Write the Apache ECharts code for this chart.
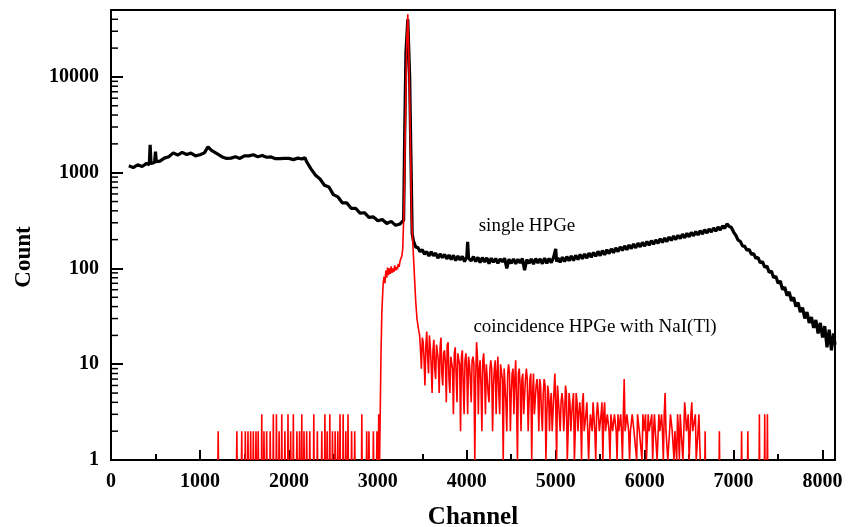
<!DOCTYPE html>
<html><head><meta charset="utf-8">
<script src="https://cdn.jsdelivr.net/npm/echarts@6/dist/echarts.min.js"></script>
<style>html,body{margin:0;padding:0;background:#fff}#c{width:848px;height:527px}</style>
</head><body><div id="c"></div>
<script>
// ---- tick labels ----
const xTickLabels = [0, 1000, 2000, 3000, 4000, 5000, 6000, 7000, 8000];
const yTickLabels = [1, 10, 100, 1000, 10000];
const yMinorTicks = [2,3,4,5,6,7,8,9,20,30,40,50,60,70,80,90,200,300,400,500,600,700,800,900,
  2000,3000,4000,5000,6000,7000,8000,9000,20000,30000,40000];

// ---- single HPGe spectrum [channel, count] ----
const singleLow = [
  [200,1180],[250,1130],[300,1210],[350,1160],[400,1250],[430,1210],[440,1960],[450,1250],
  [490,1280],[500,1660],[510,1300],[550,1320],[600,1420],[650,1470],[700,1610],[750,1530],
  [800,1630],[850,1550],[900,1600],[950,1500],[1000,1540],[1050,1610],[1090,1860],[1130,1710],
  [1150,1630],[1200,1560],[1250,1460],[1300,1410],[1350,1420],[1400,1470],[1450,1410],[1500,1500],
  [1550,1500],[1600,1540],[1650,1470],[1700,1510],[1750,1450],[1800,1460],[1850,1400],[1900,1400],
  [1950,1410],[2000,1410],[2050,1370],[2100,1420],[2150,1390],[2180,1440],[2200,1300],[2250,1090],
  [2300,940],[2350,860],[2400,740],[2450,710],[2500,590],[2550,560],[2600,485],[2650,485],
  [2700,425],[2750,425],[2800,378],[2850,382],[2900,342],[2950,346],[3000,315],[3050,325],
  [3100,295],[3150,310],[3200,282],[3250,292],[3290,320]
];
const singlePeak = [[3302,2500],[3316,18000],[3337,40000],[3358,10000],[3372,1500],[3386,230]];
const singleHigh = [
  [3400,195],[3425,168],[3450,165],[3475,150],[3500,157],[3525,141],[3550,150],[3575,135],
  [3600,149],[3625,136],[3650,145],[3675,128],[3700,142],[3725,130],[3750,140],[3775,126],
  [3800,138],[3825,124],[3850,137],[3875,121],[3900,135],[3925,123],[3950,134],[3975,118],
  [4000,132],[4010,190],[4020,128],[4050,120],[4075,133],[4100,118],[4125,131],[4150,115],
  [4175,130],[4200,117],[4225,129],[4250,112],[4275,128],[4300,116],[4325,127],[4350,113],
  [4375,126],[4400,117],[4425,128],[4450,100],[4475,125],[4500,113],[4525,126],[4550,112],
  [4575,125],[4600,114],[4625,127],[4650,96],[4675,124],[4700,113],[4725,126],[4750,111],
  [4775,127],[4800,114],[4825,126],[4850,112],[4875,128],[4900,113],[4925,127],[4950,115],
  [4975,130],[5000,160],[5010,118],[5025,129],[5050,116],[5075,131],[5100,118],[5125,133],
  [5150,120],[5175,135],[5200,121],[5225,137],[5250,124],[5275,140],[5300,126],[5325,142],
  [5350,128],[5375,145],[5400,131],[5425,147],[5450,134],[5475,151],[5500,136],[5525,154],
  [5550,139],[5575,157],[5600,143],[5625,160],[5650,146],[5675,164],[5700,150],[5725,168],
  [5750,154],[5775,172],[5800,157],[5825,176],[5850,161],[5875,180],[5900,164],[5925,184],
  [5950,168],[5975,187],[6000,171],[6025,191],[6050,175],[6075,195],[6100,179],[6125,199],
  [6150,183],[6175,204],[6200,187],[6225,208],[6250,191],[6275,213],[6300,196],[6325,218],
  [6350,200],[6375,222],[6400,205],[6425,228],[6450,209],[6475,233],[6500,214],[6525,238],
  [6550,219],[6575,243],[6600,224],[6625,248],[6650,229],[6675,254],[6700,234],[6725,259],
  [6750,240],[6775,265],[6800,245],[6825,271],[6850,252],[6875,278],[6900,262],[6925,292],
  [6950,275],[6975,268],[7000,240],[7025,222],[7050,198],[7075,192],[7100,172],[7125,170],
  [7150,155],[7175,158],[7200,140],[7225,143],[7250,128],[7275,130],[7300,114],[7325,118],
  [7350,103],[7375,106],[7400,91],[7425,94],[7450,80],[7475,83],[7500,70],[7525,74],
  [7550,60],[7575,64],[7600,52],[7625,57],[7650,46],[7675,50],[7700,40],[7725,44],
  [7750,35],[7775,39],[7800,30],[7825,35],[7850,27],[7875,31],[7900,24],[7925,29],
  [7950,21],[7975,27],[8000,19],[8025,25],[8050,15],[8075,23],[8100,14],[8125,21],[8140,16]
];

// ---- coincidence HPGe with NaI(Tl): main region [channel, count] ----
const coincMain = [
  [3020,1],[3035,12],[3045,35],[3055,55],[3060,70],[3070,82],[3080,70],[3090,95],[3100,80],
  [3110,102],[3120,85],[3130,100],[3140,88],[3150,105],[3160,90],[3170,100],[3180,92],[3190,108],
  [3200,95],[3210,104],[3220,98],[3230,112],[3240,104],[3250,120],[3260,118],[3270,135],[3280,160],
  [3295,450],[3310,3500],[3325,22000],[3337,45000],[3350,15000],[3365,2500],[3380,320],[3395,170],
  [3410,90],[3425,47],[3440,30],[3455,24],
  [3470,20],[3490,9],[3510,17],[3530,6],[3550,22],[3570,8],[3590,15],[3610,5],[3630,18],[3650,7],
  [3670,16],[3690,5],[3710,19],[3730,6],[3750,14],[3770,4],[3790,17],[3810,5],[3830,12],[3850,3],
  [3870,15],[3890,4],[3910,11],[3930,2],[3950,14],[3970,3],[3990,13],[4010,3],[4030,10],[4050,4],
  [4070,12],[4090,1],[4110,17],[4130,3],[4150,11],[4170,2],[4190,13],[4210,3],[4230,10],[4250,4],
  [4270,11],[4290,2],[4310,9],[4330,3],[4350,12],[4370,3],[4390,10],[4410,1],[4430,9],[4450,2],
  [4470,10],[4490,2],[4510,8],[4530,3],[4550,11],[4570,1],[4590,9],[4610,2],[4630,8],[4650,3],
  [4670,9],[4690,2],[4710,7],[4730,1],[4750,8],[4770,3],[4790,7],[4810,2],[4830,6],[4850,2],
  [4870,7],[4890,1],[4910,6],[4930,2],[4950,5],[4970,2],[4990,8],[5010,1],[5030,6],[5050,2],
  [5070,5],[5090,2],[5110,6],[5130,1],[5150,5],[5170,2],[5190,4],[5210,1],[5230,5],[5250,2],
  [5270,4],[5290,1],[5310,5],[5330,2],[5350,4],[5370,1],[5390,3],[5410,2],[5430,4],[5450,1],
  [5470,4],[5490,2],[5510,3],[5530,1],[5550,4],[5570,2],[5590,3],[5610,1],[5630,3],[5650,2],
  [5670,3],[5690,1],[5710,2],[5730,3],[5750,1],[5770,7],[5790,2],[5810,3],[5830,1],[5850,2],
  [5870,3],[5890,2],[5910,1],[5930,3],[5950,2],[5970,1],[5990,2],[6010,3],[6030,1],[6050,2],
  [6070,2],[6090,1],[6110,3],[6130,2],[6150,1],[6170,2],[6190,3],[6210,1],[6230,5],[6250,2],
  [6270,1],[6290,3],[6310,2],[6330,1],[6350,2],[6370,3],[6390,1],[6410,2],[6430,1],[6450,4],
  [6470,2],[6490,3],[6510,1],[6530,4],[6550,2],[6570,3],[6590,1],[6610,3],[6625,1]
];
const coincMainB = [
  [3480,14],[3500,19],[3520,11],[3540,16],[3560,12],[3580,20],[3600,10],[3620,14],[3640,9],[3660,16],
  [3680,11],[3700,15],[3720,8],[3740,13],[3760,10],[3780,16],[3800,7],[3820,12],[3840,9],[3860,13],
  [3880,8],[3900,13],[3920,10],[3940,12],[3960,6],[3980,11],[4000,9],[4020,12],[4040,7],[4060,11],
  [4080,10],[4100,7],[4120,12],[4140,9],[4160,6],[4180,11],[4200,8],[4220,10],[4240,5],[4260,9],
  [4280,9],[4300,6],[4320,11],[4340,8],[4360,5],[4380,10],[4400,7],[4420,9],[4440,4],[4460,8],
  [4480,8],[4500,5],[4520,9],[4540,7],[4560,4],[4580,8],[4600,6],[4620,7],[4640,3],[4660,7],
  [4680,7],[4700,4],[4720,8],[4740,5],[4760,3],[4780,6],[4800,5],[4820,7],[4840,3],[4860,5],
  [4880,6],[4900,3],[4920,5],[4940,4],[4960,2],[4980,5],[5000,4],[5020,6],[5040,3],[5060,4],
  [5080,4],[5100,3],[5120,5],[5140,2],[5160,4],[5180,3],[5200,5],[5220,2],[5240,4],[5260,3],
  [5280,3],[5300,4],[5320,2],[5340,3],[5360,4],[5380,2],[5400,3],[5420,4],[5440,2],[5460,3],
  [5480,3],[5500,2],[5520,4],[5540,3],[5560,2],[5580,3],[5600,2],[5620,3],[5640,2],[5660,3],
  [5680,2],[5700,3],[5720,2],[5740,2],[5760,3],[5780,2],[5800,3],[5820,2],[5840,2],[5860,3],
  [5880,2],[5900,2],[5920,3],[5940,2],[5960,2],[5980,3],[6000,2],[6020,1],[6040,3],[6060,2],
  [6080,3],[6100,2],[6120,2],[6140,1],[6160,3],[6180,2],[6200,2],[6220,3],[6240,2],[6260,1],
  [6280,2],[6300,3],[6320,2],[6340,2],[6360,1],[6380,2],[6400,3],[6420,2],[6440,2],[6460,3],
  [6480,2],[6500,1],[6520,3],[6540,2],[6560,2],[6580,1],[6600,2]
];
// ---- coincidence: isolated counts outside main region ----
const coincSpikeCh = [1205,1415,1470,1510,1540,1570,1600,1630,1655,1695,1720,1750,1790,1825,1860,
  1890,1920,1955,1990,2020,2050,2090,2120,2145,2170,2200,2235,2280,2320,2370,2405,2430,2460,2490,
  2520,2550,2575,2610,2640,2665,2705,2740,2820,2875,2900,2950,2990,3010,
  6680,6840,7090,7160,7290,7350,7380];
const coincSpikeCount = [2,2,2,2,2,2,2,2,2,3,2,2,2,3,3,
  2,3,2,3,2,3,2,2,3,2,2,2,3,2,2,3,2,3,2,
  2,2,3,3,2,3,2,2,3,2,2,2,2,3,
  2,2,2,2,3,3,3];

// build series data
const singleData = singleLow.concat(singlePeak, singleHigh);
const coincData = [];
const pushSpike = (c, h) => { coincData.push([c - 3, 1], [c, h], [c + 3, 1], [c + 4, null]); };
coincSpikeCh.forEach((c, i) => { if (c < 3020) pushSpike(c, coincSpikeCount[i]); });
coincMain.concat(coincMainB).sort((a, b) => a[0] - b[0]).forEach(p => coincData.push(p));
coincData.push([6630, null]);
coincSpikeCh.forEach((c, i) => { if (c > 6625) pushSpike(c, coincSpikeCount[i]); });

const serif = '"Liberation Serif","Times New Roman",serif';
const chart = echarts.init(document.getElementById('c'), null, {renderer: 'canvas'});
chart.setOption({
  animation: false,
  backgroundColor: '#fff',
  grid: {left: 111, right: 13, top: 10, bottom: 67, outerBoundsMode: 'none', containLabel: false,
    show: true, borderColor: '#000', borderWidth: 2, backgroundColor: 'transparent'},
  xAxis: {
    type: 'value', min: 0, max: 8140, interval: 1000,
    name: 'Channel', nameLocation: 'middle', nameGap: 45,
    nameTextStyle: {fontFamily: serif, fontWeight: 'bold', fontSize: 25, color: '#000'},
    axisLine: {show: true, lineStyle: {color: '#000', width: 2}},
    axisTick: {show: true, inside: true, length: 10, lineStyle: {color: '#000', width: 2}},
    minorTick: {show: true, splitNumber: 2, length: 6, lineStyle: {color: '#000', width: 2}},
    splitLine: {show: false},
    axisLabel: {margin: 12, fontFamily: serif, fontWeight: 'bold', fontSize: 20, color: '#000',
      formatter: v => xTickLabels.includes(Math.round(v)) ? String(Math.round(v)) : ''}
  },
  yAxis: {
    type: 'log', logBase: 10, min: 1, max: 50000, interval: 1,
    axisLine: {show: true, lineStyle: {color: '#000', width: 2}},
    axisTick: {show: true, inside: true, length: 12, lineStyle: {color: '#000', width: 2}},
    splitLine: {show: false},
    axisLabel: {margin: 12, fontFamily: serif, fontWeight: 'bold', fontSize: 20, color: '#000',
      formatter: v => yTickLabels.includes(Math.round(v)) ? String(Math.round(v)) : ''}
  },
  graphic: [
    {type: 'text', x: 24, y: 257, rotation: Math.PI / 2, style: {text: 'Count', font: 'bold 23px ' + serif, fill: '#000', align: 'center', verticalAlign: 'middle'}},
    {type: 'text', x: 527, y: 226, style: {text: 'single HPGe', font: '19px ' + serif, fill: '#000', align: 'center', verticalAlign: 'middle'}},
    {type: 'text', x: 595, y: 327, style: {text: 'coincidence HPGe with NaI(Tl)', font: '19px ' + serif, fill: '#000', align: 'center', verticalAlign: 'middle'}}
  ],
  series: [
    {type: 'line', name: 'single HPGe', data: singleData, showSymbol: false, symbol: 'none',
      lineStyle: {color: '#000', width: 3.2}, z: 2},
    {type: 'line', name: 'coincidence', data: coincData, showSymbol: false, symbol: 'none', connectNulls: false,
      lineStyle: {color: '#ff0000', width: 1.6}, z: 3},
    {type: 'custom', name: 'minorTicks', silent: true, clip: false, z: 5,
      data: yMinorTicks.map(v => [0, v]),
      renderItem: (params, api) => {
        const p = api.coord([0, api.value(1)]);
        return {type: 'line', shape: {x1: p[0], y1: p[1], x2: p[0] + 7, y2: p[1]}, style: {stroke: '#000', lineWidth: 1.5}};
      }}
  ]
});
</script></body></html>
